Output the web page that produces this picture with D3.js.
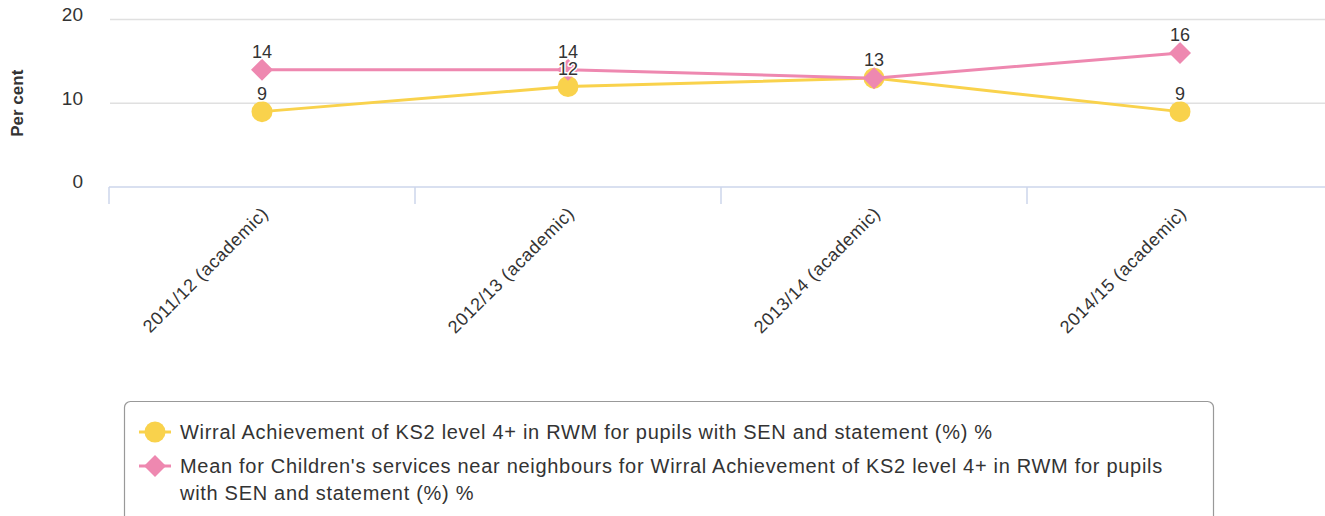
<!doctype html>
<html lang='en'>
<head>
<meta charset="utf-8">
<script src="https://d3js.org/d3.v7.min.js"></script>
<style>
  body { margin: 0; background: #fff; font-family: "Liberation Sans", Arial, sans-serif; }
  .tick text { fill: #333; }
</style>
</head>
<body>
<div id="chart"></div>
<script>
const categories = ['2011/12 (academic)', '2012/13 (academic)', '2013/14 (academic)', '2014/15 (academic)'];
const wirral = [9, 12, 13, 9];
const neighbours = [14, 14, 13, 16];
const seriesNames = [
  'Wirral Achievement of KS2 level 4+ in RWM for pupils with SEN and statement (%) %',
  "Mean for Children's services near neighbours for Wirral Achievement of KS2 level 4+ in RWM for pupils|with SEN and statement (%) %"
];
const yTicks = [0, 10, 20];

const W = 1325, H = 516;
const yellow = '#f9d24c', pink = '#ee88b0';

const svg = d3.select('#chart').append('svg')
  .attr('width', W).attr('height', H);

const x = d3.scaleBand().domain(categories).range([109, 1333]);
const y = d3.scaleLinear().domain([0, 20]).range([187, 19.5]);

// grid
svg.append('g').selectAll('line')
  .data(yTicks.filter(d => d > 0))
  .enter().append('line')
  .attr('x1', 110).attr('x2', W)
  .attr('y1', d => y(d)).attr('y2', d => y(d))
  .attr('stroke', '#e0e0e0').attr('stroke-width', 1.5);

// y axis labels
const yAxis = d3.axisLeft(y).tickValues(yTicks).tickSize(0).tickPadding(0);
const yg = svg.append('g').attr('transform', 'translate(83,0)').call(yAxis);
yg.select('.domain').remove();
yg.selectAll('text').style('font-size', '19px').style('font-family', '"Liberation Sans", Arial, sans-serif').attr('dy', '0.05em');

svg.append('text')
  .attr('transform', 'translate(23,' + y(10) + ') rotate(-90)')
  .attr('text-anchor', 'middle')
  .style('font-size', '17px').style('font-weight', 'bold').attr('fill', '#333')
  .text('Per cent');

// x axis
const xg = svg.append('g').attr('transform', 'translate(0,' + y(0) + ')');
xg.append('line').attr('x1', 109).attr('x2', W)
  .attr('stroke', '#ccd6eb').attr('stroke-width', 1.5);
const edges = categories.map(c => x(c));
xg.selectAll('line.tk').data(edges).enter().append('line')
  .attr('class', 'tk')
  .attr('x1', d => d).attr('x2', d => d).attr('y1', 0).attr('y2', 17)
  .attr('stroke', '#ccd6eb').attr('stroke-width', 1.5);
xg.selectAll('text').data(categories).enter().append('text')
  .attr('transform', d => 'translate(' + (x(d) + x.bandwidth() / 2 + 3) + ',23) rotate(-45)')
  .attr('text-anchor', 'end')
  .attr('dy', '0.35em')
  .style('font-size', '18px').style('letter-spacing', '0.6px').attr('fill', '#333')
  .text(d => d);

const cx = c => x(c) + x.bandwidth() / 2;
const line = d3.line().x((d, i) => cx(categories[i])).y(d => y(d));

function drawSeries(vals, color, symbol) {
  svg.append('path').datum(vals)
    .attr('d', line).attr('fill', 'none')
    .attr('stroke', color).attr('stroke-width', 3);
  svg.selectAll(null).data(vals).enter().append('path')
    .attr('transform', (d, i) => 'translate(' + cx(categories[i]) + ',' + y(d) + ')')
    .attr('d', symbol)
    .attr('fill', color);
}
const circleSym = d3.symbol().type(d3.symbolCircle).size(Math.PI * 10.5 * 10.5)();
const diamondSym = 'M0,-11L11,0L0,11L-11,0Z';

drawSeries(wirral, yellow, circleSym);
drawSeries(neighbours, pink, diamondSym);

function labels(vals) {
  svg.selectAll(null).data(vals).enter().append('text')
    .attr('x', (d, i) => cx(categories[i]))
    .attr('y', d => y(d) - 12)
    .attr('text-anchor', 'middle')
    .style('font-size', '18px').attr('fill', '#333')
    .style('paint-order', 'stroke').attr('stroke', '#fff').attr('stroke-width', 3).attr('stroke-linejoin', 'round')
    .text(d => d);
}
labels(wirral);
labels(neighbours);

// legend
const lg = svg.append('g');
lg.append('rect')
  .attr('x', 124.5).attr('y', 401.5).attr('width', 1089).attr('height', 140)
  .attr('rx', 6).attr('fill', '#fff').attr('stroke', '#999').attr('stroke-width', 1.2);

const legendItems = [
  { name: seriesNames[0], color: yellow, sym: circleSym, y: 432 },
  { name: seriesNames[1], color: pink, sym: diamondSym, y: 466 }
];
legendItems.forEach(it => {
  lg.append('line').attr('x1', 139).attr('x2', 171).attr('y1', it.y).attr('y2', it.y)
    .attr('stroke', it.color).attr('stroke-width', 3);
  lg.append('path').attr('d', it.sym).attr('fill', it.color)
    .attr('transform', 'translate(155,' + it.y + ')');
  const t = lg.append('text').attr('x', 180).attr('y', it.y)
    .style('font-size', '20px').style('letter-spacing', '0.7px').attr('fill', '#333');
  it.name.split('|').forEach((s, k) => {
    t.append('tspan').attr('x', 180).attr('dy', k === 0 ? '0.35em' : '27px').text(s);
  });
});
</script>
</body>
</html>
